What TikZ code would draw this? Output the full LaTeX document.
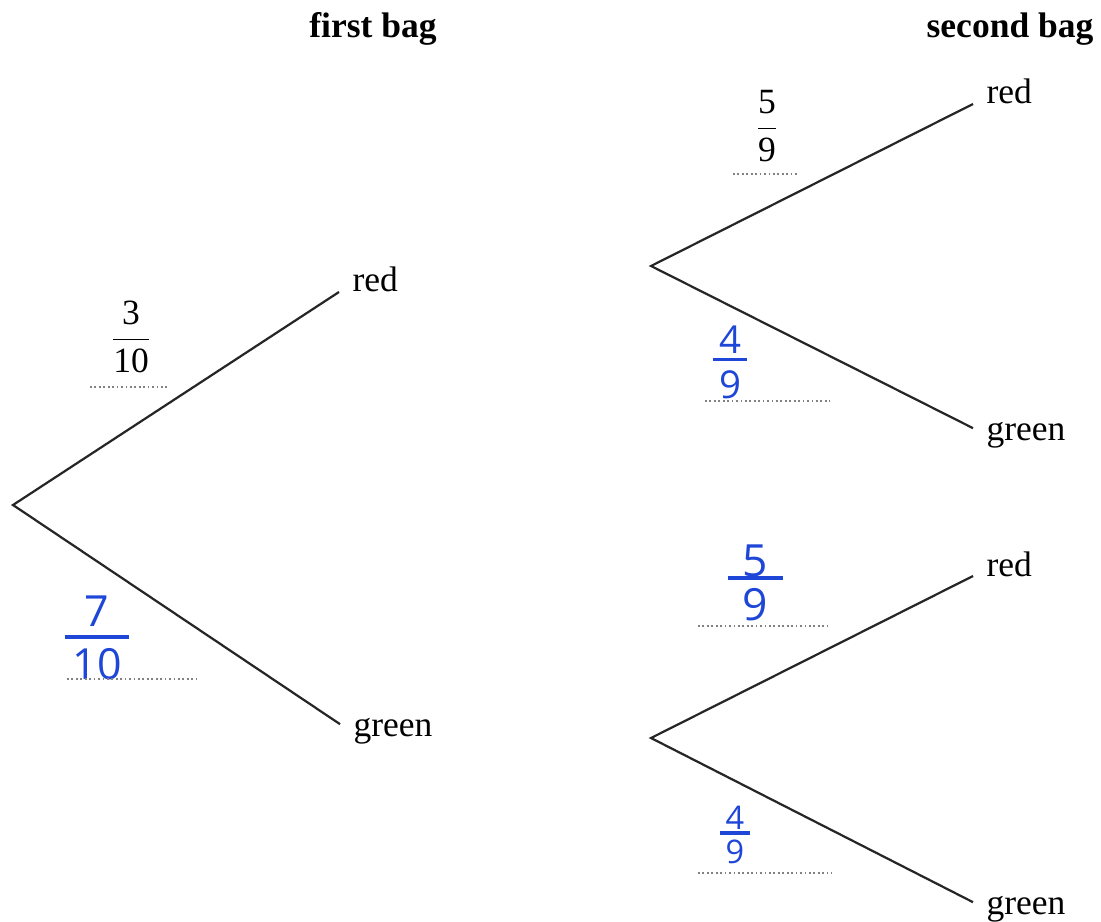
\documentclass[tikz,border=0pt]{standalone}
\usepackage{amsmath}
\usepackage{fontspec}
\setmainfont{Liberation Serif}
\newfontfamily\handfont{Open Sans}
\usetikzlibrary{positioning, calc}
\definecolor{penblue}{RGB}{30, 70, 215}
\definecolor{dotgray}{RGB}{130, 130, 130}

\newcommand{\printfrac}[2]{$\genfrac{}{}{0.55pt}{0}{\text{#1}}{\text{#2}}$}
% #1 drop of numerator, #2 lift of denominator
\newcommand{\penfrac}[4]{$\genfrac{}{}{1.1pt}{0}%
  {\text{\raisebox{-#1}[\height][0pt]{#3}}}{\text{\raisebox{#2}[\height][\depth]{#4}}}$}

\begin{document}
\begin{tikzpicture}[x=0.338pt, y=-0.338pt,
  branch/.style={line width=0.75pt, black!85},
  outcome/.style={anchor=base west, inner xsep=4.4pt, inner ysep=0pt, font=\fontsize{12}{14}\selectfont},
  heading/.style={anchor=base, inner sep=0pt, font=\fontsize{12}{14}\selectfont\bfseries},
  given/.style={inner sep=0pt, font=\fontsize{12}{14}\selectfont},
  answer/.style={inner sep=0pt, text=penblue, font=\handfont\fontsize{13}{15}\selectfont},
  writeline/.style={dotgray, line width=0.5pt, dash pattern=on 0.6pt off 0.9pt}]
  \useasboundingbox (0,0) rectangle (1101,921);

  % headings
  \node[heading] (bag1) at (373,38) {first bag};
  \node[heading] (bag2) at (1010,38) {second bag};

  % splitting points
  \coordinate (start) at (13,505);
  \coordinate (split1) at (651,266);
  \coordinate (split2) at (651,738);

  % outcomes
  \node[outcome] (red1) at (339,292) {red};
  \node[outcome] (green1) at (340,736) {green};
  \node[outcome] (red2) at (973,104) {red};
  \node[outcome] (green2) at (973,440) {green};
  \node[outcome] (red3) at (973,576) {red};
  \node[outcome] (green3) at (973,914) {green};

  % branches
  \draw[branch] (red1.base west) -- (start) -- ([yshift=4pt]green1.base west);
  \draw[branch] (red2.base west) -- (split1) -- ([yshift=4pt]green2.base west);
  \draw[branch] (red3.base west) -- (split2) -- ([yshift=4pt]green3.base west);

  % given probabilities
  \node[given] (p1) at (131,337) {\printfrac{3}{10}};
  \node[given] (p2) at (767,126) {\printfrac{5}{9}};

  % written answers
  \node[answer, font=\handfont\fontsize{14.5}{16}\selectfont] (a1) at (97,634) {\penfrac{2.7pt}{0pt}{\,7\,}{\,10\,}};
  \node[answer] (a2) at (730,358) {\penfrac{3pt}{0pt}{\,4\,}{\,9\,}};
  \node[answer, font=\handfont\fontsize{15}{17}\selectfont] (a3) at (755,575) {\penfrac{5.5pt}{0.5pt}{\,\,5\,\,}{\,9\,}};
  \node[answer, font=\handfont\fontsize{11}{13}\selectfont] (a4) at (735,832) {\penfrac{3.6pt}{1.6pt}{\,4\,}{\,9\,}};

  % answer lines
  \draw[writeline] (90,387) -- (167,387);
  \draw[writeline] (733,174) -- (799,174);
  \draw[writeline] (67,679) -- (197,679);
  \draw[writeline] (705,401) -- (830,401);
  \draw[writeline] (698,626) -- (830,626);
  \draw[writeline] (698,873) -- (832,873);
\end{tikzpicture}
\end{document}
